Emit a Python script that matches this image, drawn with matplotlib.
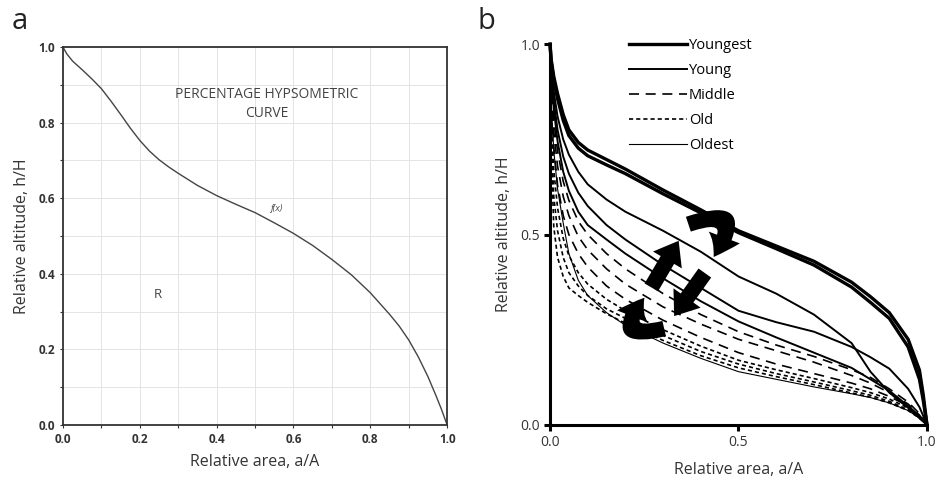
import matplotlib
matplotlib.use("Agg")
import matplotlib.pyplot as plt
from matplotlib.patches import FancyArrowPatch
from matplotlib.ticker import MultipleLocator

plt.rcParams['font.family'] = ['Open Sans', 'DejaVu Sans']

# panel a: percentage hypsometric curve
xa = [0, 0.01, 0.025, 0.05, 0.075, 0.1, 0.125, 0.15, 0.175, 0.2, 0.225, 0.25, 0.275, 0.3,
      0.35, 0.4, 0.45, 0.5, 0.55, 0.6, 0.65, 0.7, 0.75, 0.8, 0.85, 0.875, 0.9, 0.925,
      0.95, 0.97, 0.985, 1.0]
ya = [1.0, 0.982, 0.963, 0.94, 0.916, 0.89, 0.857, 0.822, 0.786, 0.753, 0.725, 0.702,
      0.683, 0.666, 0.634, 0.607, 0.584, 0.562, 0.535, 0.507, 0.475, 0.438, 0.398,
      0.35, 0.293, 0.262, 0.225, 0.18, 0.128, 0.08, 0.042, 0.0]

# panel b: curves by stage
xb = [0, 0.003, 0.01, 0.02, 0.035, 0.05, 0.075, 0.1, 0.15, 0.2, 0.3, 0.4, 0.5, 0.6,
      0.7, 0.8, 0.85, 0.9, 0.95, 0.98, 0.99, 1.0]
youngest = [
    [1.0, 0.96, 0.915, 0.87, 0.815, 0.775, 0.742, 0.722, 0.697, 0.672, 0.617, 0.565,
     0.51, 0.47, 0.43, 0.375, 0.337, 0.295, 0.225, 0.144, 0.08, 0.0],
    [1.0, 0.955, 0.905, 0.857, 0.80, 0.76, 0.727, 0.707, 0.683, 0.66, 0.607, 0.557,
     0.505, 0.463, 0.42, 0.362, 0.322, 0.28, 0.205, 0.12, 0.065, 0.0],
]
young = [
    [1.0, 0.94, 0.875, 0.81, 0.75, 0.71, 0.665, 0.632, 0.592, 0.56, 0.51, 0.455,
     0.39, 0.345, 0.29, 0.215, 0.14, 0.085, 0.045, 0.018, 0.009, 0.0],
    [1.0, 0.93, 0.85, 0.775, 0.705, 0.66, 0.61, 0.575, 0.525, 0.487, 0.42, 0.36,
     0.30, 0.27, 0.245, 0.205, 0.178, 0.148, 0.095, 0.047, 0.024, 0.0],
    [1.0, 0.92, 0.83, 0.745, 0.665, 0.615, 0.56, 0.525, 0.487, 0.45, 0.385, 0.325,
     0.272, 0.23, 0.19, 0.15, 0.12, 0.09, 0.05, 0.022, 0.011, 0.0],
]
middle = [
    [1.0, 0.90, 0.80, 0.72, 0.64, 0.59, 0.535, 0.50, 0.45, 0.41, 0.345, 0.29,
     0.245, 0.21, 0.18, 0.145, 0.125, 0.095, 0.06, 0.03, 0.015, 0.0],
    [1.0, 0.88, 0.77, 0.68, 0.60, 0.55, 0.495, 0.46, 0.41, 0.37, 0.31, 0.265,
     0.225, 0.195, 0.165, 0.13, 0.11, 0.085, 0.055, 0.026, 0.013, 0.0],
    [1.0, 0.86, 0.73, 0.63, 0.55, 0.50, 0.45, 0.415, 0.365, 0.33, 0.275, 0.23,
     0.19, 0.16, 0.135, 0.11, 0.095, 0.075, 0.05, 0.024, 0.012, 0.0],
]
old = [
    [1.0, 0.82, 0.67, 0.57, 0.49, 0.445, 0.40, 0.37, 0.33, 0.30, 0.25, 0.207,
     0.17, 0.145, 0.122, 0.098, 0.085, 0.068, 0.045, 0.022, 0.011, 0.0],
    [1.0, 0.78, 0.60, 0.51, 0.44, 0.40, 0.365, 0.34, 0.305, 0.28, 0.235, 0.193,
     0.16, 0.135, 0.113, 0.09, 0.078, 0.062, 0.04, 0.02, 0.01, 0.0],
    [1.0, 0.72, 0.52, 0.44, 0.39, 0.36, 0.34, 0.322, 0.292, 0.267, 0.222, 0.182,
     0.15, 0.127, 0.106, 0.084, 0.073, 0.058, 0.038, 0.018, 0.009, 0.0],
]
oldest = [
    [1.0, 0.85, 0.72, 0.62, 0.53, 0.45, 0.38, 0.34, 0.295, 0.262, 0.215, 0.175,
     0.14, 0.12, 0.10, 0.082, 0.072, 0.058, 0.038, 0.018, 0.009, 0.0],
]

fig = plt.figure(figsize=(9.37, 4.82), dpi=100)

# ---- panel a ----
ax1 = fig.add_axes([0.0672, 0.1183, 0.410, 0.784])
ax1.plot(xa, ya, color='#444444', lw=1.0)
ax1.set_xlim(0, 1)
ax1.set_ylim(0, 1)
ax1.xaxis.set_major_locator(MultipleLocator(0.2))
ax1.yaxis.set_major_locator(MultipleLocator(0.2))
ax1.xaxis.set_minor_locator(MultipleLocator(0.1))
ax1.yaxis.set_minor_locator(MultipleLocator(0.1))
ax1.grid(True, which='both', color='#e4e4e4', lw=0.7)
ax1.set_axisbelow(True)
ax1.xaxis.set_major_formatter(plt.FuncFormatter(lambda v, p: f"{v:.1f}"))
ax1.yaxis.set_major_formatter(plt.FuncFormatter(lambda v, p: f"{v:.1f}"))
ax1.tick_params(which='both', direction='out', length=2.5, width=0.8, color='#333333',
                labelsize=8.5, pad=3)
for lab in ax1.get_xticklabels() + ax1.get_yticklabels():
    lab.set_fontweight('bold')
    lab.set_color('#333333')
for s in ax1.spines.values():
    s.set_color('#333333')
    s.set_linewidth(1.3)
ax1.set_xlabel('Relative area, a/A', fontsize=11.5, color='#333333', labelpad=6)
ax1.set_ylabel('Relative altitude, h/H', fontsize=11.5, color='#333333', labelpad=6)
ax1.text(0.53, 0.85, 'PERCENTAGE HYPSOMETRIC\nCURVE', ha='center', va='center',
         fontsize=10, color='#444444', linespacing=1.4)
ax1.text(0.555, 0.567, 'f(x)', fontsize=6.5, style='italic', color='#444444', ha='center')
ax1.text(0.248, 0.344, 'R', fontsize=9.5, color='#444444', ha='center', va='center')
fig.text(0.012, 0.955, 'a', fontsize=21, va='center', ha='left', color='#222222')

# ---- panel b ----
ax2 = fig.add_axes([0.587, 0.1183, 0.4023, 0.790])
for y in youngest:
    ax2.plot(xb, y, color='black', lw=2.4, clip_on=False)
for y in young:
    ax2.plot(xb, y, color='black', lw=1.4, clip_on=False)
for y in middle:
    ax2.plot(xb, y, color='black', lw=1.2, dashes=(6, 4), clip_on=False)
for y in old:
    ax2.plot(xb, y, color='black', lw=1.2, dashes=(2.5, 1.8), clip_on=False)
for y in oldest:
    ax2.plot(xb, y, color='black', lw=0.8, clip_on=False)

# legend proxies
h1, = ax2.plot([], [], color='black', lw=2.4)
h2, = ax2.plot([], [], color='black', lw=1.4)
h3, = ax2.plot([], [], color='black', lw=1.2, dashes=(6, 4))
h4, = ax2.plot([], [], color='black', lw=1.2, dashes=(2.5, 1.8))
h5, = ax2.plot([], [], color='black', lw=0.8)
ax2.legend([h1, h2, h3, h4, h5], ['Youngest', 'Young', 'Middle', 'Old', 'Oldest'],
           loc='upper left', bbox_to_anchor=(0.175, 1.05), frameon=False, fontsize=10.5,
           handlelength=4.0, handletextpad=0.1, labelspacing=0.68)

# cycle arrows
arrows = [
    ((0.36, 0.525), (0.43, 0.435), -1.5),
    ((0.265, 0.355), (0.345, 0.49), 0.0),
    ((0.415, 0.405), (0.325, 0.28), 0.0),
    ((0.31, 0.255), (0.255, 0.34), -1.5),
]
for (p0, p1, rad) in arrows:
    arr = FancyArrowPatch(p0, p1, connectionstyle=f"arc3,rad={rad}",
                          arrowstyle="simple,head_length=1.0,head_width=1.5,tail_width=0.7",
                          mutation_scale=16, color='black', lw=0)
    ax2.add_patch(arr)

ax2.set_xlim(0, 1)
ax2.set_ylim(0, 1)
ax2.set_xticks([0, 0.5, 1.0])
ax2.set_yticks([0, 0.5, 1.0])
ax2.xaxis.set_major_formatter(plt.FuncFormatter(lambda v, p: f"{v:.1f}"))
ax2.yaxis.set_major_formatter(plt.FuncFormatter(lambda v, p: f"{v:.1f}"))
ax2.spines['top'].set_visible(False)
ax2.spines['right'].set_visible(False)
ax2.spines['left'].set_linewidth(2.2)
ax2.spines['bottom'].set_linewidth(2.2)
ax2.tick_params(direction='out', length=4, width=2.2, labelsize=10, pad=3, labelcolor='#333333')
ax2.set_xlabel('Relative area, a/A', fontsize=11.5, color='#333333', labelpad=9)
ax2.set_ylabel('Relative altitude, h/H', fontsize=11.5, color='#333333', labelpad=6)
fig.text(0.51, 0.955, 'b', fontsize=21, va='center', ha='left', color='#222222')

fig.savefig('out.png', dpi=100)
